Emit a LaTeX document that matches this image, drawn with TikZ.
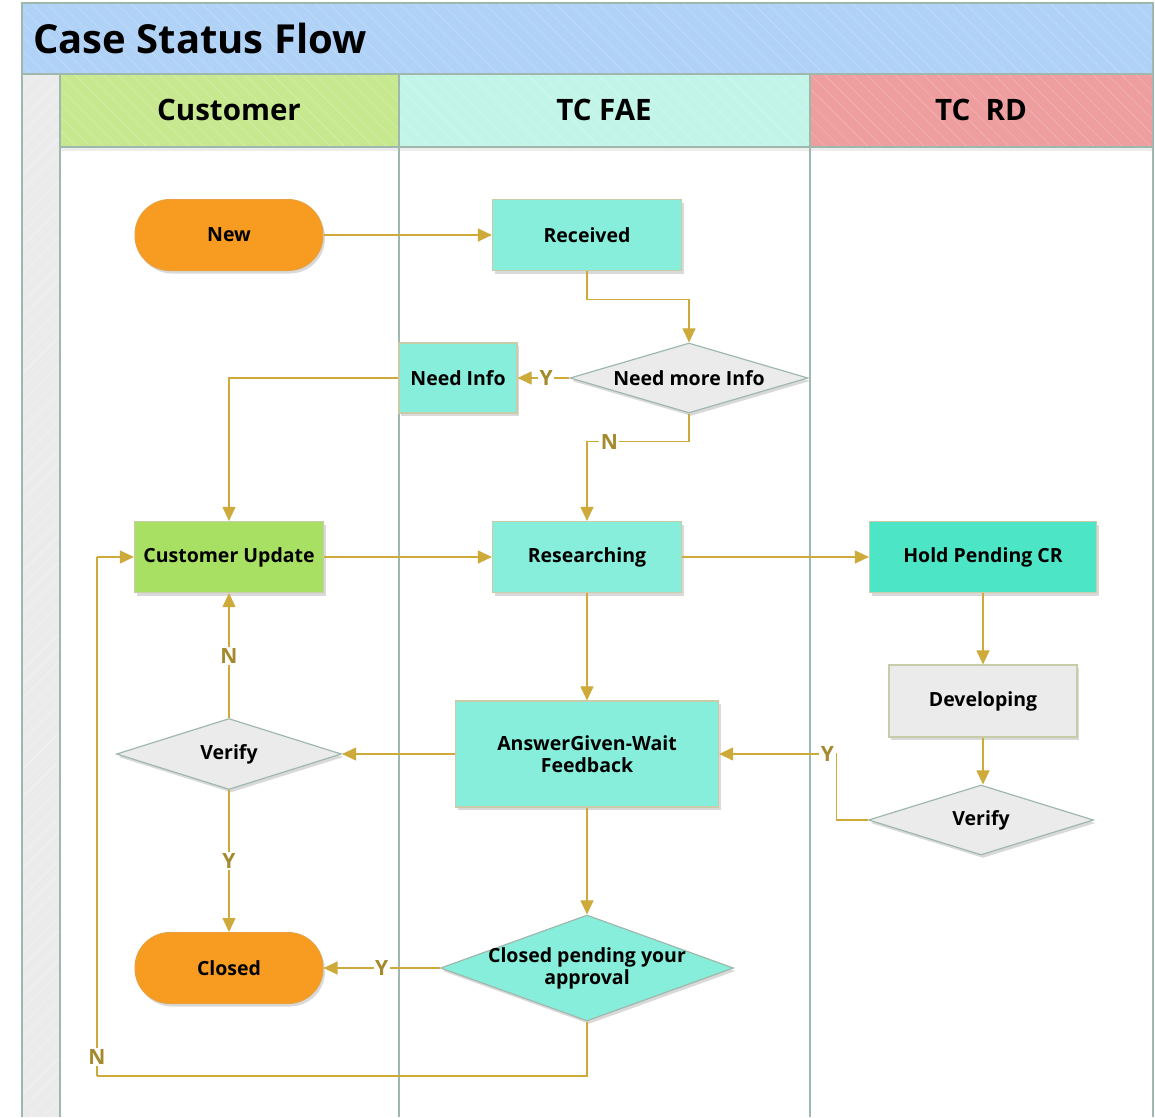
\documentclass[tikz,border=0pt]{standalone}
\usepackage{fontspec}
\setmainfont{Open Sans}
\usetikzlibrary{arrows.meta,shapes.geometric,shadows,patterns.meta}
\definecolor{frame}{HTML}{9FB8AE}
\definecolor{titlebg}{HTML}{B0D2F7}
\definecolor{custbg}{HTML}{C8E88F}
\definecolor{faebg}{HTML}{C2F5E8}
\definecolor{rdbg}{HTML}{EE9E9E}
\definecolor{stripbg}{HTML}{EBEBEB}
\definecolor{teal}{HTML}{86EEDA}
\definecolor{tealdark}{HTML}{4CE6C6}
\definecolor{greennode}{HTML}{A8E063}
\definecolor{orangenode}{HTML}{F79B21}
\definecolor{orangeline}{HTML}{E8A040}
\definecolor{grayfill}{HTML}{EBEBEB}
\definecolor{boxline}{HTML}{C8CCA8}
\definecolor{conn}{HTML}{CDAA3A}
\definecolor{lblc}{HTML}{A48A2C}
\tikzset{
  shd/.style={drop shadow={shadow xshift=2pt,shadow yshift=-3pt,opacity=0.15,fill=black}},
  nodetext/.style={font=\fontsize{19.5}{22}\selectfont\bfseries,align=center,text=black},
  tealbox/.style={shd,rectangle,fill=teal,draw=boxline,line width=1.2pt,nodetext,inner sep=0pt},
  stadium/.style={shd,rectangle,rounded corners=35pt,fill=orangenode,draw=orangeline,line width=1pt,nodetext,minimum width=188pt,minimum height=71pt,inner sep=0pt},
  dia/.style={shd,diamond,draw=frame,line width=1.2pt,inner sep=0pt,aspect=3},
  conn/.style={draw=conn,line width=1.1pt,-{Triangle[length=14pt,width=13pt]}},
  connl/.style={draw=conn,line width=1.1pt},
  lbl/.style={fill=white,text=lblc,font=\fontsize{21}{22}\selectfont\bfseries,inner sep=1.5pt},
  hdr/.style={font=\fontsize{29.5}{32}\selectfont\bfseries},
  hatch/.style={pattern={Lines[angle=-45,distance=10pt,line width=0.4pt]},pattern color=white!30!#1}
}
\begin{document}
\begin{tikzpicture}[x=1pt,y=-1pt]
\useasboundingbox (0,0) rectangle (1155,1117);
% swimlane frame
\fill[stripbg] (22,74) rectangle (60,1117);
\fill[pattern={Lines[angle=45,distance=10pt,line width=0.4pt]},pattern color=white!50!stripbg] (22,74) rectangle (60,1117);
\fill[titlebg] (22,3) rectangle (1153,74);
\fill[hatch=titlebg] (22,3) rectangle (1153,74);
\fill[custbg] (60,74) rectangle (399,147);
\fill[hatch=custbg] (60,74) rectangle (399,147);
\fill[faebg] (399,74) rectangle (810,147);
\fill[hatch=faebg] (399,74) rectangle (810,147);
\fill[rdbg] (810,74) rectangle (1153,147);
\fill[hatch=rdbg] (810,74) rectangle (1153,147);
\fill[black,opacity=0.07] (60,147) rectangle (1153,151);
\draw[frame,line width=1.5pt] (22,1117) -- (22,3) -- (1153,3) -- (1153,1117);
\draw[frame,line width=1.5pt] (22,74) -- (1153,74);
\draw[frame,line width=1.5pt] (60,147) -- (1153,147);
\foreach \xx in {60,399,810} \draw[frame,line width=1.5pt] (\xx,74) -- (\xx,1117);
\node[anchor=west,font=\fontsize{40}{44}\selectfont\bfseries,inner sep=0pt] (title) at (33,38) {Case Status Flow};
\node[hdr] (hcust) at (229,110) {Customer};
\node[hdr] (hfae) at (604,110) {TC FAE};
\node[hdr] (hrd) at (981,110) {TC\ \ RD};
% nodes
\node[stadium] (new) at (229,235) {New};
\node[tealbox,minimum width=189pt,minimum height=71pt] (rec) at (587,235) {Received};
\node[dia,fill=grayfill,minimum width=238pt,minimum height=70pt,label={[nodetext]center:Need more Info}] (nmi) at (689,378) {};
\node[tealbox,minimum width=118pt,minimum height=70pt] (ni) at (458,378) {Need Info};
\node[tealbox,fill=greennode,minimum width=189pt,minimum height=71pt] (cu) at (229,557) {Customer Update};
\node[tealbox,minimum width=189pt,minimum height=71pt] (res) at (587,557) {Researching};
\node[tealbox,fill=tealdark,minimum width=227pt,minimum height=71pt] (hold) at (983,557) {Hold Pending CR};
\node[tealbox,fill=grayfill,minimum width=188pt,minimum height=72pt] (dev) at (983,701) {Developing};
\node[tealbox,minimum width=263pt,minimum height=106pt] (ans) at (587,754) {AnswerGiven-Wait\\Feedback};
\node[dia,fill=grayfill,minimum width=225pt,minimum height=71pt,label={[nodetext]center:Verify}] (v1) at (229,754) {};
\node[dia,fill=grayfill,minimum width=225pt,minimum height=70pt,label={[nodetext]center:Verify}] (v2) at (981,820) {};
\node[stadium] (closed) at (229,968) {Closed};
\node[dia,fill=teal,minimum width=293pt,minimum height=106pt,label={[nodetext]center:Closed pending your\\approval}] (cp) at (587,968) {};
% connectors
\draw[conn] (new) -- (rec);
\draw[conn] (rec.south) -- ++(0,28) -| (nmi.north);
\draw[conn] (nmi.west) -- node[lbl,pos=0.45]{Y} (ni.east);
\draw[conn] (ni.west) -| (cu.north);
\draw[conn] (nmi.south) -- ++(0,28) -| node[lbl,pos=0.39]{N} (res.north);
\draw[conn] (cu) -- (res);
\draw[conn] (res) -- (hold);
\draw[conn] (res) -- (ans);
\draw[conn] (hold) -- (dev);
\draw[conn] (dev.south) -- (dev.south |- v2.north);
\draw[conn] (v2.west) -- ++(-31,0) |- node[lbl,pos=0.54]{Y} (ans.east);
\draw[conn] (ans) -- (v1);
\draw[conn] (v1) -- node[lbl]{N} (cu);
\draw[conn] (v1) -- node[lbl]{Y} (closed);
\draw[conn] (ans) -- (cp);
\draw[conn] (cp) -- node[lbl]{Y} (closed);
\coordinate (loopc) at (97,1076);
\draw[connl] (cp.south) |- (loopc);
\draw[connl] (loopc) -- node[lbl,pos=0.037]{N} (loopc |- cu.west);
\draw[conn] (loopc |- cu.west) -- (cu.west);
\end{tikzpicture}
\end{document}
